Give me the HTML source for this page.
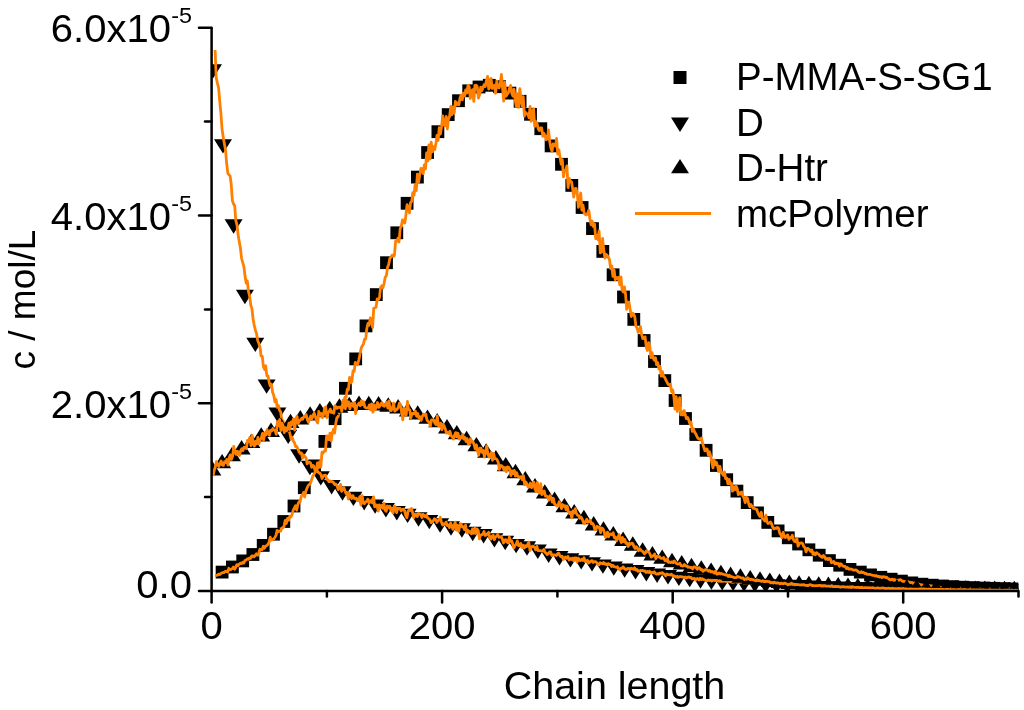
<!DOCTYPE html>
<html><head><meta charset="utf-8"><style>
html,body{margin:0;padding:0;background:#fff;width:1024px;height:710px;overflow:hidden}
svg{position:absolute;left:0;top:0;font-family:"Liberation Sans",sans-serif;will-change:transform}
</style></head><body>
<svg width="1024" height="710" viewBox="0 0 1024 710">
<rect width="1024" height="710" fill="#fff"/>
<defs><clipPath id="pc"><rect x="211.65" y="0" width="806.75" height="590.9"/></clipPath></defs>
<g clip-path="url(#pc)">
<g fill="#000"><rect x="215.7" y="565.7" width="12.8" height="12.8"/><rect x="226.0" y="560.6" width="12.8" height="12.8"/><rect x="236.3" y="554.5" width="12.8" height="12.8"/><rect x="246.5" y="548.1" width="12.8" height="12.8"/><rect x="256.8" y="539.0" width="12.8" height="12.8"/><rect x="267.1" y="527.8" width="12.8" height="12.8"/><rect x="277.4" y="515.1" width="12.8" height="12.8"/><rect x="287.6" y="499.6" width="12.8" height="12.8"/><rect x="297.9" y="481.3" width="12.8" height="12.8"/><rect x="308.2" y="459.5" width="12.8" height="12.8"/><rect x="318.5" y="435.0" width="12.8" height="12.8"/><rect x="328.7" y="412.3" width="12.8" height="12.8"/><rect x="339.0" y="381.9" width="12.8" height="12.8"/><rect x="349.3" y="352.5" width="12.8" height="12.8"/><rect x="359.6" y="319.5" width="12.8" height="12.8"/><rect x="369.9" y="288.2" width="12.8" height="12.8"/><rect x="380.1" y="256.3" width="12.8" height="12.8"/><rect x="390.4" y="226.4" width="12.8" height="12.8"/><rect x="400.7" y="196.9" width="12.8" height="12.8"/><rect x="411.0" y="170.7" width="12.8" height="12.8"/><rect x="421.2" y="146.1" width="12.8" height="12.8"/><rect x="431.5" y="125.3" width="12.8" height="12.8"/><rect x="441.8" y="108.2" width="12.8" height="12.8"/><rect x="452.1" y="94.3" width="12.8" height="12.8"/><rect x="462.3" y="84.4" width="12.8" height="12.8"/><rect x="472.6" y="80.6" width="12.8" height="12.8"/><rect x="482.9" y="78.9" width="12.8" height="12.8"/><rect x="493.2" y="80.3" width="12.8" height="12.8"/><rect x="503.5" y="86.7" width="12.8" height="12.8"/><rect x="513.7" y="94.9" width="12.8" height="12.8"/><rect x="524.1" y="107.9" width="12.8" height="12.8"/><rect x="534.4" y="122.3" width="12.8" height="12.8"/><rect x="544.7" y="139.5" width="12.8" height="12.8"/><rect x="555.1" y="157.9" width="12.8" height="12.8"/><rect x="565.4" y="179.0" width="12.8" height="12.8"/><rect x="575.7" y="201.1" width="12.8" height="12.8"/><rect x="586.1" y="222.2" width="12.8" height="12.8"/><rect x="596.4" y="245.0" width="12.8" height="12.8"/><rect x="606.7" y="268.4" width="12.8" height="12.8"/><rect x="617.1" y="290.6" width="12.8" height="12.8"/><rect x="627.4" y="313.0" width="12.8" height="12.8"/><rect x="637.7" y="334.1" width="12.8" height="12.8"/><rect x="648.1" y="355.1" width="12.8" height="12.8"/><rect x="658.4" y="374.2" width="12.8" height="12.8"/><rect x="668.7" y="394.1" width="12.8" height="12.8"/><rect x="679.1" y="412.1" width="12.8" height="12.8"/><rect x="689.4" y="428.1" width="12.8" height="12.8"/><rect x="699.7" y="443.9" width="12.8" height="12.8"/><rect x="710.0" y="459.1" width="12.8" height="12.8"/><rect x="720.3" y="473.3" width="12.8" height="12.8"/><rect x="730.5" y="484.7" width="12.8" height="12.8"/><rect x="740.8" y="496.2" width="12.8" height="12.8"/><rect x="751.1" y="506.5" width="12.8" height="12.8"/><rect x="761.4" y="516.0" width="12.8" height="12.8"/><rect x="771.7" y="524.5" width="12.8" height="12.8"/><rect x="781.9" y="531.4" width="12.8" height="12.8"/><rect x="792.2" y="537.6" width="12.8" height="12.8"/><rect x="802.5" y="543.4" width="12.8" height="12.8"/><rect x="812.8" y="548.8" width="12.8" height="12.8"/><rect x="823.0" y="554.2" width="12.8" height="12.8"/><rect x="833.3" y="558.8" width="12.8" height="12.8"/><rect x="843.6" y="563.0" width="12.8" height="12.8"/><rect x="853.9" y="565.7" width="12.8" height="12.8"/><rect x="864.1" y="568.5" width="12.8" height="12.8"/><rect x="874.4" y="570.9" width="12.8" height="12.8"/><rect x="884.7" y="572.8" width="12.8" height="12.8"/><rect x="895.0" y="574.7" width="12.8" height="12.8"/><rect x="905.3" y="576.5" width="12.8" height="12.8"/><rect x="915.5" y="577.8" width="12.8" height="12.8"/><rect x="925.8" y="578.8" width="12.8" height="12.8"/><rect x="936.1" y="579.6" width="12.8" height="12.8"/><rect x="946.4" y="580.2" width="12.8" height="12.8"/><rect x="956.6" y="580.8" width="12.8" height="12.8"/><rect x="966.9" y="581.2" width="12.8" height="12.8"/><rect x="977.2" y="581.6" width="12.8" height="12.8"/><rect x="987.5" y="581.9" width="12.8" height="12.8"/><rect x="997.7" y="582.2" width="12.8" height="12.8"/><rect x="1008.0" y="582.5" width="12.8" height="12.8"/><path d="M204.0 64.2h18l-9.0 14.4z"/><path d="M214.0 139.2h18l-9.0 14.4z"/><path d="M224.6 219.3h18l-9.0 14.4z"/><path d="M235.9 289.8h18l-9.0 14.4z"/><path d="M246.3 337.7h18l-9.0 14.4z"/><path d="M257.6 379.4h18l-9.0 14.4z"/><path d="M268.4 407.5h18l-9.0 14.4z"/><path d="M279.2 429.7h18l-9.0 14.4z"/><path d="M290.1 449.3h18l-9.0 14.4z"/><path d="M300.9 460.8h18l-9.0 14.4z"/><path d="M311.8 471.2h18l-9.0 14.4z"/><path d="M322.6 480.0h18l-9.0 14.4z"/><path d="M333.5 486.3h18l-9.0 14.4z"/><path d="M344.4 491.7h18l-9.0 14.4z"/><path d="M355.2 496.0h18l-9.0 14.4z"/><path d="M366.1 499.4h18l-9.0 14.4z"/><path d="M376.9 503.1h18l-9.0 14.4z"/><path d="M387.8 506.0h18l-9.0 14.4z"/><path d="M398.6 508.7h18l-9.0 14.4z"/><path d="M409.5 512.3h18l-9.0 14.4z"/><path d="M420.3 514.9h18l-9.0 14.4z"/><path d="M431.1 518.3h18l-9.0 14.4z"/><path d="M442.0 521.3h18l-9.0 14.4z"/><path d="M452.9 523.3h18l-9.0 14.4z"/><path d="M463.7 526.8h18l-9.0 14.4z"/><path d="M474.6 529.0h18l-9.0 14.4z"/><path d="M485.4 533.2h18l-9.0 14.4z"/><path d="M496.2 535.8h18l-9.0 14.4z"/><path d="M507.1 538.9h18l-9.0 14.4z"/><path d="M518.0 541.3h18l-9.0 14.4z"/><path d="M528.8 544.6h18l-9.0 14.4z"/><path d="M539.6 548.5h18l-9.0 14.4z"/><path d="M550.5 551.0h18l-9.0 14.4z"/><path d="M561.4 553.2h18l-9.0 14.4z"/><path d="M572.2 555.2h18l-9.0 14.4z"/><path d="M583.0 557.2h18l-9.0 14.4z"/><path d="M593.9 559.4h18l-9.0 14.4z"/><path d="M604.8 561.4h18l-9.0 14.4z"/><path d="M615.6 563.4h18l-9.0 14.4z"/><path d="M626.5 565.0h18l-9.0 14.4z"/><path d="M637.3 567.0h18l-9.0 14.4z"/><path d="M648.1 568.5h18l-9.0 14.4z"/><path d="M659.0 570.1h18l-9.0 14.4z"/><path d="M669.9 571.7h18l-9.0 14.4z"/><path d="M680.7 572.9h18l-9.0 14.4z"/><path d="M691.5 574.3h18l-9.0 14.4z"/><path d="M702.4 575.4h18l-9.0 14.4z"/><path d="M713.2 576.2h18l-9.0 14.4z"/><path d="M724.1 576.8h18l-9.0 14.4z"/><path d="M735.0 577.5h18l-9.0 14.4z"/><path d="M745.8 578.1h18l-9.0 14.4z"/><path d="M756.7 578.7h18l-9.0 14.4z"/><path d="M767.5 579.2h18l-9.0 14.4z"/><path d="M778.3 579.7h18l-9.0 14.4z"/><path d="M789.2 580.1h18l-9.0 14.4z"/><path d="M800.0 580.5h18l-9.0 14.4z"/><path d="M810.9 580.9h18l-9.0 14.4z"/><path d="M821.8 581.3h18l-9.0 14.4z"/><path d="M832.6 581.6h18l-9.0 14.4z"/><path d="M843.5 581.9h18l-9.0 14.4z"/><path d="M854.3 582.1h18l-9.0 14.4z"/><path d="M865.2 582.3h18l-9.0 14.4z"/><path d="M876.0 582.5h18l-9.0 14.4z"/><path d="M886.8 582.7h18l-9.0 14.4z"/><path d="M897.7 582.9h18l-9.0 14.4z"/><path d="M908.5 583.1h18l-9.0 14.4z"/><path d="M919.4 583.2h18l-9.0 14.4z"/><path d="M930.2 583.4h18l-9.0 14.4z"/><path d="M941.1 583.5h18l-9.0 14.4z"/><path d="M952.0 583.6h18l-9.0 14.4z"/><path d="M962.8 583.7h18l-9.0 14.4z"/><path d="M973.7 583.8h18l-9.0 14.4z"/><path d="M984.5 583.9h18l-9.0 14.4z"/><path d="M995.3 584.0h18l-9.0 14.4z"/><path d="M1006.2 584.1h18l-9.0 14.4z"/></g>
<path d="M215.0 575.7 216.2 575.4 217.3 575.4 218.5 574.1 219.6 574.6 220.8 573.7 221.9 572.8 223.1 572.5 224.2 572.5 225.4 571.4 226.5 571.5 227.7 572.0 228.8 568.3 230.0 569.7 231.1 569.4 232.3 568.5 233.4 567.1 234.6 569.2 235.7 567.4 236.9 564.6 238.0 565.6 239.2 564.2 240.3 563.2 241.5 563.6 242.6 562.3 243.8 563.1 244.9 560.5 246.1 560.1 247.2 558.8 248.4 559.3 249.5 558.0 250.7 558.3 251.8 555.9 253.0 556.0 254.1 556.8 255.3 555.4 256.4 553.8 257.6 555.2 258.7 553.6 259.9 549.2 261.0 549.7 262.2 549.6 263.3 546.3 264.5 548.2 265.6 546.0 266.8 545.6 267.9 544.5 269.1 542.1 270.2 537.2 271.4 540.1 272.5 539.4 273.7 539.1 274.8 537.5 276.0 535.6 277.1 530.4 278.3 531.9 279.4 531.1 280.6 531.2 281.7 528.1 282.9 527.6 284.0 526.6 285.2 520.3 286.3 523.5 287.5 518.3 288.6 520.3 289.8 516.1 290.9 516.9 292.1 514.5 293.2 510.1 294.4 508.0 295.5 505.7 296.7 510.2 297.8 504.6 299.0 501.7 300.1 501.9 301.3 495.9 302.4 495.3 303.6 492.4 304.7 497.0 305.9 491.0 307.0 488.3 308.2 485.5 309.3 484.5 310.5 483.3 311.6 479.7 312.8 476.3 313.9 474.4 315.1 472.1 316.2 471.5 317.4 463.0 318.5 467.8 319.7 461.7 320.8 467.1 322.0 452.1 323.1 453.1 324.3 451.0 325.4 451.2 326.6 435.8 327.7 436.5 328.9 439.7 330.0 433.1 331.2 440.9 332.3 432.9 333.5 429.2 334.6 433.1 335.8 423.2 336.9 417.6 338.1 417.0 339.2 411.9 340.4 412.2 341.5 409.9 342.7 408.9 343.8 401.8 345.0 397.1 346.1 397.3 347.3 389.1 348.4 389.9 349.6 377.4 350.7 382.8 351.9 381.5 353.0 371.0 354.2 371.4 355.3 362.5 356.5 363.2 357.6 364.7 358.8 360.1 359.9 354.8 361.1 348.5 362.2 345.9 363.4 344.4 364.5 339.4 365.7 339.2 366.8 328.5 368.0 323.3 369.1 325.3 370.3 318.0 371.4 319.9 372.6 327.3 373.7 308.3 374.9 307.8 376.0 307.3 377.2 299.0 378.3 299.8 379.5 297.6 380.6 287.4 381.8 285.8 382.9 287.9 384.1 283.3 385.2 277.3 386.4 275.6 387.5 267.4 388.7 264.6 389.8 258.5 391.0 257.1 392.1 255.1 393.3 256.3 394.4 255.4 395.6 241.1 396.7 241.2 397.9 238.2 399.0 242.0 400.2 228.6 401.3 226.5 402.5 219.8 403.6 220.8 404.8 223.1 405.9 215.0 407.1 204.6 408.2 207.9 409.4 213.0 410.5 202.9 411.7 201.4 412.8 192.6 414.0 195.3 415.1 184.9 416.3 190.7 417.4 174.1 418.6 182.3 419.7 175.3 420.9 168.5 422.0 168.6 423.2 173.7 424.3 165.0 425.5 168.9 426.6 152.9 427.8 160.9 428.9 144.8 430.1 158.8 431.2 142.2 432.4 151.9 433.5 146.7 434.7 149.7 435.8 144.4 437.0 135.5 438.1 140.6 439.3 127.7 440.4 134.1 441.6 126.2 442.7 116.0 443.9 124.8 445.0 125.7 446.2 116.4 447.3 129.0 448.5 119.0 449.6 116.2 450.8 106.5 451.9 114.9 453.1 106.9 454.2 113.2 455.4 101.4 456.5 104.8 457.7 103.0 458.8 104.9 460.0 97.9 461.1 95.1 462.3 99.8 463.4 93.1 464.6 95.9 465.7 89.8 466.9 93.0 468.0 85.1 469.2 87.0 470.3 98.5 471.5 91.9 472.6 89.6 473.8 101.4 474.9 85.4 476.1 85.2 477.2 86.6 478.4 98.1 479.5 95.0 480.7 87.2 481.8 90.7 483.0 87.8 484.1 84.6 485.3 86.6 486.4 80.4 487.6 76.4 488.7 89.0 489.9 87.0 491.0 78.3 492.2 88.4 493.3 87.8 494.5 85.1 495.6 93.3 496.8 81.1 497.9 87.1 499.1 88.0 500.2 84.4 501.4 74.4 502.5 87.7 503.7 101.0 504.8 82.5 506.0 96.2 507.1 94.5 508.3 92.9 509.4 88.6 510.6 85.4 511.7 92.9 512.9 96.1 514.0 89.2 515.2 99.6 516.3 106.2 517.5 93.7 518.6 107.3 519.8 88.6 520.9 98.0 522.1 106.0 523.2 96.6 524.4 116.1 525.5 112.4 526.7 113.8 527.8 114.0 529.0 117.7 530.1 106.5 531.3 121.3 532.4 112.6 533.6 108.8 534.7 126.4 535.9 121.8 537.0 123.4 538.2 128.7 539.3 130.6 540.5 128.0 541.6 127.8 542.8 136.4 543.9 133.3 545.1 136.4 546.2 139.9 547.4 138.2 548.5 129.9 549.7 141.3 550.8 147.8 552.0 151.3 553.1 144.0 554.3 144.9 555.4 146.1 556.6 138.5 557.7 154.1 558.9 149.9 560.0 157.1 561.2 164.2 562.3 159.7 563.5 176.8 564.6 170.5 565.8 170.9 566.9 165.9 568.1 187.5 569.2 178.3 570.4 181.3 571.5 181.8 572.7 189.3 573.8 197.0 575.0 188.7 576.1 188.4 577.3 193.6 578.4 207.4 579.6 198.6 580.7 193.0 581.9 210.1 583.0 205.2 584.2 213.4 585.3 214.4 586.5 214.8 587.6 213.3 588.8 210.3 589.9 218.8 591.1 224.8 592.2 221.0 593.4 226.7 594.5 224.0 595.7 238.7 596.8 235.0 598.0 239.7 599.1 231.0 600.3 252.8 601.4 252.1 602.6 238.5 603.7 249.6 604.9 258.0 606.0 254.3 607.2 255.3 608.3 257.6 609.5 259.5 610.6 268.5 611.8 266.0 612.9 276.4 614.1 270.0 615.2 279.7 616.4 277.4 617.5 279.1 618.7 277.1 619.8 284.8 621.0 277.0 622.1 289.8 623.3 292.1 624.4 286.8 625.6 294.8 626.7 309.3 627.9 302.2 629.0 302.2 630.2 309.8 631.3 316.5 632.5 313.1 633.6 313.8 634.8 317.0 635.9 326.3 637.1 328.1 638.2 332.3 639.4 330.3 640.5 326.6 641.7 334.9 642.8 338.6 644.0 337.7 645.1 336.8 646.3 347.2 647.4 350.5 648.6 342.6 649.7 345.4 650.9 357.6 652.0 352.6 653.2 358.1 654.3 360.2 655.5 357.8 656.6 364.7 657.8 362.8 658.9 369.1 660.1 366.4 661.2 376.1 662.4 371.6 663.5 376.4 664.7 377.4 665.8 379.9 667.0 382.1 668.1 384.3 669.3 385.1 670.4 384.2 671.6 391.8 672.7 389.9 673.9 396.8 675.0 409.1 676.2 396.6 677.3 411.5 678.5 402.6 679.6 397.7 680.8 414.8 681.9 411.5 683.1 415.0 684.2 410.6 685.4 415.3 686.5 418.7 687.7 417.5 688.8 420.3 690.0 424.0 691.1 422.2 692.3 431.4 693.4 428.6 694.6 432.1 695.7 433.7 696.9 436.3 698.0 438.4 699.2 439.2 700.3 439.3 701.5 438.0 702.6 443.4 703.8 447.4 704.9 450.9 706.1 449.0 707.2 449.2 708.4 455.2 709.5 451.8 710.7 456.1 711.8 462.4 713.0 467.9 714.1 459.8 715.3 464.9 716.4 462.3 717.6 466.1 718.7 471.7 719.9 466.4 721.0 471.6 722.2 473.3 723.3 475.4 724.5 471.9 725.6 478.5 726.8 478.2 727.9 483.8 729.1 479.4 730.2 483.8 731.4 483.2 732.5 491.2 733.7 486.8 734.8 489.9 736.0 486.0 737.1 488.1 738.3 494.7 739.4 492.6 740.6 494.1 741.7 492.0 742.9 496.1 744.0 497.9 745.2 502.6 746.3 497.2 747.5 498.4 748.6 503.5 749.8 506.9 750.9 504.5 752.1 506.4 753.2 508.3 754.4 508.4 755.5 509.1 756.7 509.3 757.8 512.6 759.0 515.2 760.1 516.5 761.3 512.3 762.4 518.6 763.6 519.5 764.7 521.0 765.9 515.2 767.0 521.8 768.2 523.6 769.3 523.1 770.5 521.9 771.6 524.0 772.8 527.3 773.9 528.9 775.1 528.0 776.2 528.4 777.4 527.4 778.5 528.0 779.7 533.3 780.8 534.7 782.0 537.8 783.1 532.3 784.3 536.4 785.4 537.6 786.6 535.7 787.7 534.9 788.9 539.4 790.0 537.7 791.2 537.9 792.3 535.3 793.5 539.8 794.6 541.5 795.8 541.8 796.9 538.1 798.1 546.2 799.2 543.4 800.4 543.1 801.5 542.9 802.7 543.7 803.8 546.5 805.0 547.7 806.1 551.8 807.3 548.4 808.4 548.7 809.6 549.8 810.7 551.3 811.9 550.1 813.0 554.4 814.2 552.8 815.3 554.7 816.5 552.6 817.6 553.5 818.8 554.4 819.9 555.8 821.1 556.5 822.2 557.6 823.4 555.5 824.5 556.6 825.7 559.3 826.8 558.2 828.0 559.7 829.1 558.3 830.3 558.8 831.4 562.7 832.6 562.2 833.7 561.5 834.9 563.9 836.0 563.0 837.2 563.8 838.3 563.4 839.5 566.2 840.6 563.8 841.8 564.7 842.9 566.1 844.1 566.3 845.2 566.5 846.4 568.6 847.5 567.6 848.7 569.1 849.8 568.9 851.0 569.1 852.1 569.3 853.3 570.1 854.4 570.2 855.6 569.9 856.7 570.3 857.9 571.5 859.0 572.2 860.2 572.8 861.3 571.6 862.5 572.6 863.6 572.4 864.8 573.6 865.9 573.4 867.1 574.4 868.2 574.4 869.4 574.4 870.5 574.7 871.7 575.0 872.8 575.4 874.0 575.4 875.1 576.1 876.3 575.5 877.4 576.5 878.6 576.3 879.7 577.0 880.9 576.7 882.0 577.6 883.2 576.7 884.3 576.8 885.5 577.5 886.6 577.1 887.8 578.8 888.9 578.9 890.1 579.9 891.2 579.7 892.4 579.1 893.5 580.2 894.7 579.5 895.8 580.9 897.0 580.1 898.1 580.9 899.3 579.8 900.4 579.6 901.6 580.5 902.7 581.3 903.9 581.2 905.0 581.7 906.2 582.1 907.3 582.3 908.5 581.6 909.6 582.8 910.8 582.4 911.9 582.3 913.1 583.3 914.2 583.0 915.4 583.2 916.5 583.4 917.7 583.9 918.8 584.0 920.0 584.9 921.1 584.7 922.3 585.1 923.4 585.3 924.6 584.9 925.7 585.4 926.9 586.1 928.0 585.3 929.2 585.4 930.3 586.2 931.5 585.9 932.6 586.1 933.8 586.8 934.9 586.6 936.1 586.9 937.2 587.0 938.4 586.9 939.5 587.2 940.7 587.8 941.8 587.7 943.0 587.9 944.1 588.1 945.3 588.4 946.4 588.3 947.6 588.2 948.7 588.7 949.9 589.0 951.0 589.1 952.2 589.0 953.3 589.1 954.5 588.9 955.6 589.4 956.8 589.3 957.9 589.2 959.1 589.5 960.2 589.1 961.4 589.7 962.5 589.5 963.7 589.5 964.8 589.8 966.0 589.5 967.1 590.0 968.3 590.1 969.4 589.9 970.6 590.0 971.7 590.0 972.9 589.8 974.0 590.1 975.2 590.3 976.3 590.3 977.5 590.3 978.6 590.3 979.8 590.3 980.9 590.3 982.1 590.3 983.2 590.1 984.4 590.3 985.5 590.3 986.7 590.3 987.8 590.3 989.0 590.3 990.1 590.3 991.3 590.3 992.4 590.3 993.6 590.3 994.7 590.3 995.9 590.3 997.0 590.3 998.2 590.3 999.3 590.3 1000.5 590.3 1001.6 590.3 1002.8 590.3 1003.9 590.3 1005.1 590.3 1006.2 590.3 1007.4 590.3 1008.5 590.3 1009.7 590.3 1010.8 590.3 1012.0 590.3 1013.1 590.3 1014.3 590.3 1015.4 590.3 1016.6 590.3 1017.7 590.3 1018.9 590.3" fill="none" stroke="#FF8000" stroke-width="2.8" stroke-linejoin="round"/>
<path d="M215.1 50.0 216.2 77.6 217.4 83.1 218.6 87.9 219.7 100.9 220.9 113.2 222.0 128.6 223.2 137.1 224.3 143.2 225.5 149.7 226.6 162.8 227.8 173.1 228.9 174.7 230.1 175.9 231.2 184.0 232.4 200.8 233.5 203.9 234.7 205.7 235.8 220.3 237.0 224.8 238.1 234.6 239.3 242.1 240.4 247.9 241.6 258.5 242.7 262.5 243.9 266.6 245.0 275.8 246.2 283.0 247.3 281.0 248.5 291.7 249.6 296.0 250.8 305.2 251.9 308.4 253.1 319.0 254.2 325.1 255.4 330.3 256.5 333.6 257.7 340.5 258.8 343.3 260.0 347.1 261.1 356.0 262.3 356.4 263.4 366.8 264.6 369.5 265.7 365.8 266.9 375.8 268.0 375.8 269.2 382.5 270.3 386.1 271.5 384.2 272.6 392.2 273.8 395.5 274.9 401.8 276.1 399.5 277.2 407.3 278.4 405.6 279.5 410.3 280.7 411.8 281.8 420.1 283.0 420.5 284.1 427.5 285.3 425.7 286.4 428.6 287.6 430.9 288.7 429.9 289.9 433.4 291.0 439.0 292.2 437.3 293.3 441.0 294.5 442.8 295.6 446.5 296.8 446.5 297.9 449.0 299.1 451.9 300.2 453.4 301.4 452.9 302.5 458.2 303.7 455.0 304.8 456.6 306.0 457.7 307.1 463.8 308.3 462.2 309.4 462.1 310.6 463.0 311.7 467.4 312.9 465.4 314.0 466.1 315.2 471.1 316.3 468.4 317.5 471.2 318.6 472.8 319.8 472.9 320.9 474.7 322.1 478.5 323.2 475.9 324.4 475.4 325.5 475.2 326.7 479.4 327.8 479.8 329.0 481.8 330.1 481.0 331.3 481.6 332.4 481.7 333.6 482.7 334.7 484.6 335.9 484.1 337.0 485.6 338.2 489.7 339.3 487.6 340.5 484.4 341.6 491.3 342.8 489.4 343.9 487.6 346.0 493.6 347.1 492.6 348.3 499.0 349.4 493.3 350.6 496.1 351.7 498.5 352.9 495.6 354.0 498.1 355.2 498.9 356.3 498.2 357.5 500.6 358.6 499.7 359.8 496.7 360.9 505.0 362.1 495.7 363.2 502.7 364.4 503.7 365.5 501.9 366.7 501.3 367.8 499.2 369.0 503.0 370.1 500.8 371.3 501.7 372.4 502.9 373.6 496.8 374.7 506.8 375.9 504.9 377.0 505.1 378.2 511.2 379.3 504.9 380.5 507.5 381.6 505.5 382.8 508.2 383.9 503.2 385.1 510.2 386.2 511.2 387.4 506.0 388.5 507.9 389.7 506.2 390.8 510.2 392.0 508.2 393.1 513.0 394.3 506.0 395.4 507.4 396.6 512.6 397.7 508.1 398.9 508.7 400.0 508.5 401.2 510.9 402.3 509.3 403.5 509.2 404.6 510.8 405.8 515.6 406.9 517.8 408.1 511.1 409.2 510.0 410.4 510.5 411.5 508.5 412.7 513.1 413.8 517.8 415.0 514.3 416.1 514.4 417.3 516.5 418.4 513.5 419.6 514.1 420.7 514.3 421.9 517.6 423.0 514.4 424.2 515.5 425.3 516.8 426.5 515.0 427.6 518.0 428.8 518.7 429.9 519.8 431.1 522.6 432.2 521.6 433.4 520.5 434.5 518.8 435.7 519.6 436.8 522.5 438.0 521.0 439.1 519.8 440.3 517.3 441.4 521.9 442.6 525.0 443.7 523.7 444.9 524.3 446.0 522.1 447.2 525.5 448.3 525.0 449.5 527.6 450.6 523.0 451.8 525.9 452.9 529.3 454.1 525.6 455.2 522.1 456.4 530.1 457.5 525.4 458.7 531.5 459.8 525.1 461.0 523.8 462.1 526.9 463.3 526.7 464.4 529.6 465.6 525.2 466.7 532.5 467.9 530.3 469.0 532.2 470.2 531.6 471.3 533.8 472.5 528.9 473.6 533.4 474.8 528.2 475.9 533.5 477.1 528.9 478.2 530.6 479.4 538.8 480.5 535.2 481.7 534.8 482.8 534.0 484.0 531.5 485.1 535.5 486.3 535.2 487.4 533.7 488.6 532.3 489.7 537.8 490.9 539.1 492.0 536.4 493.2 535.3 494.3 539.7 495.5 537.0 496.6 536.0 497.8 534.6 498.9 537.3 500.1 537.0 501.2 536.5 502.4 539.4 503.5 543.0 504.7 540.1 505.8 539.6 507.0 542.1 508.1 542.8 509.3 537.1 510.4 541.4 511.6 540.7 512.7 543.8 513.9 547.8 515.0 545.6 516.2 544.3 517.3 540.9 518.5 545.7 519.6 545.6 520.8 543.5 521.9 547.3 523.1 545.3 524.2 548.0 525.4 545.7 526.5 546.8 527.7 544.4 528.8 542.2 530.0 550.6 531.1 547.6 532.3 546.2 533.4 546.4 534.6 547.5 535.7 549.8 536.9 546.4 538.0 550.7 539.2 550.6 540.3 550.6 541.5 550.9 542.6 551.0 543.8 549.4 544.9 552.1 546.1 553.2 547.2 554.7 548.4 553.7 549.5 551.9 550.7 552.0 551.8 555.5 553.0 554.9 554.1 554.8 555.3 555.1 556.4 555.6 557.6 553.7 558.7 553.1 559.9 555.8 561.0 556.8 562.2 556.3 563.3 559.5 564.5 557.6 565.6 556.9 566.8 558.2 567.9 556.5 569.1 560.0 570.2 558.4 571.4 559.6 572.5 558.1 573.7 560.8 574.8 557.8 576.0 558.0 577.1 562.0 578.3 558.1 579.4 560.3 580.6 560.5 581.7 559.3 582.9 560.5 584.0 557.7 585.2 561.6 586.3 561.2 587.5 560.3 588.6 563.0 589.8 562.2 590.9 561.1 592.1 560.6 593.2 562.4 594.4 561.6 595.5 561.7 596.7 562.6 597.8 564.6 599.0 564.9 600.1 562.7 601.3 563.3 602.4 563.8 603.6 562.5 604.7 564.1 605.9 563.7 607.0 564.9 608.2 563.6 609.3 564.6 610.5 564.5 611.6 566.6 612.8 565.2 613.9 566.6 615.1 566.9 616.2 567.3 617.4 566.6 618.5 568.6 619.7 569.9 620.8 568.4 622.0 568.1 623.1 566.8 624.3 568.4 625.4 569.4 626.6 569.3 627.7 568.5 628.9 568.3 630.0 569.7 631.2 568.2 632.3 568.7 633.5 569.4 634.6 567.8 635.8 570.1 636.9 569.4 638.1 571.4 639.2 571.1 640.4 570.4 641.5 570.6 642.7 570.4 643.8 571.1 645.0 570.8 646.1 572.4 647.3 571.5 648.4 572.4 649.6 571.3 650.7 573.1 651.9 572.3 653.0 572.9 654.2 571.8 655.3 573.4 656.5 574.2 657.6 573.7 658.8 574.1 659.9 573.0 661.1 573.4 662.2 572.7 663.4 573.6 664.5 574.4 665.7 575.9 666.8 573.9 668.0 574.6 669.1 574.7 670.3 575.0 671.4 574.3 672.6 575.6 673.7 575.6 674.9 576.3 676.0 577.1 677.2 576.3 678.3 577.4 679.5 576.7 680.6 576.6 681.8 576.8 682.9 577.0 684.1 577.5 685.2 577.0 686.4 578.1 687.5 577.3 688.7 576.9 689.8 577.7 691.0 577.4 692.1 579.0 693.3 578.7 694.4 578.4 695.6 580.1 696.7 578.6 697.9 578.6 699.0 579.9 700.2 578.3 701.3 579.5 702.5 578.8 703.6 579.7 704.8 579.9 705.9 580.7 707.1 580.8 708.2 580.0 709.4 580.6 710.5 580.1 711.7 581.1 712.8 580.2 714.0 580.3 715.1 580.7 716.3 580.2 717.4 580.5 718.6 581.4 719.7 580.7 720.9 581.4 722.0 581.2 723.2 581.3 724.3 580.9 725.5 581.3 726.6 581.4 727.8 581.4 728.9 581.2 730.1 581.9 731.2 581.3 732.4 582.3 733.5 582.2 734.7 581.8 735.8 581.1 737.0 582.3 738.1 581.8 739.3 582.7 740.4 581.6 741.6 582.1 742.7 582.4 743.9 583.3 745.0 582.6 746.2 583.1 747.3 582.8 748.5 582.1 749.6 582.6 750.8 582.8 751.9 583.4 753.1 582.1 754.2 582.7 755.4 583.2 756.5 583.0 757.7 583.6 758.8 583.3 760.0 583.3 761.1 583.1 762.3 583.2 763.4 583.8 764.6 583.9 765.7 582.9 766.9 584.1 768.0 583.5 769.2 583.8 770.3 583.6 771.5 583.7 772.6 584.3 773.8 583.7 774.9 583.8 776.1 584.4 777.2 584.1 778.4 584.6 779.5 584.3 780.7 584.2 781.8 584.9 783.0 584.2 784.1 584.3 785.3 584.4 786.4 584.6 787.6 585.0 788.7 583.9 789.9 584.7 791.0 585.4 792.2 584.7 793.3 585.2 794.5 585.0 795.6 584.6 796.8 584.6 797.9 585.2 799.1 585.3 800.2 584.5 801.4 585.0 802.5 584.9 803.7 585.1 804.8 584.9 806.0 585.5 807.1 585.5 808.3 585.0 809.4 585.2 810.6 585.6 811.7 585.5 812.9 585.4 814.0 585.9 815.2 585.8 816.3 585.7 817.5 586.0 818.6 585.6 819.8 585.8 820.9 585.9 822.1 585.9 823.2 585.6 824.4 586.0 825.5 586.2 826.7 586.4 827.8 586.0 829.0 586.2 830.1 585.9 831.3 586.5 832.4 585.8 833.6 586.2 834.7 586.4 835.9 586.6 837.0 586.3 838.2 585.9 839.3 586.8 840.5 586.6 841.6 586.2 842.8 586.7 843.9 586.9 845.1 586.6 846.2 586.7 847.4 586.8 848.5 586.8 849.7 586.9 850.8 586.5 852.0 586.8 853.1 586.7 854.3 586.9 855.4 587.4 856.6 587.5 857.7 587.0 858.9 586.9 860.0 586.8 861.2 586.7 862.3 586.9 863.5 587.1 864.6 587.0 865.8 587.1 866.9 587.2 868.1 587.1 869.2 586.7 870.4 587.2 871.5 587.4 872.7 587.3 873.8 587.2 875.0 587.5 876.1 587.3 877.3 587.6 878.4 587.3 879.6 587.1 880.7 587.5 881.9 587.4 883.0 587.5 884.2 587.3 885.3 587.4 886.5 587.3 887.6 587.6 888.8 587.7 889.9 587.4 891.1 587.6 892.2 587.7 893.4 587.7 894.5 587.7 895.7 587.4 896.8 587.3 898.0 587.7 899.1 587.5 900.3 587.8 901.4 588.0 902.6 587.6 903.7 587.8 904.9 587.5 906.0 587.7 907.2 587.6 908.3 587.7 909.5 588.4 910.6 588.0 911.8 588.5 912.9 588.2 914.1 588.0 915.2 588.2 916.4 587.7 917.5 587.7 918.7 588.2 919.8 588.2 921.0 588.0 922.1 588.4 923.3 587.9 924.4 588.3 925.6 588.0 926.7 587.6 927.9 588.3 929.0 588.0 930.2 588.2 931.3 588.0 932.5 588.2 933.6 588.2 934.8 588.1 935.9 588.1 937.1 588.0 938.2 588.3 939.4 588.1 940.5 588.4 941.7 588.0 942.8 588.5 944.0 588.4 945.1 588.6 946.3 588.3 947.4 588.0 948.6 588.1 949.7 588.5 950.9 588.7 952.0 588.5 953.2 588.5 954.3 588.7 955.5 588.4 956.6 588.5 957.8 588.5 958.9 588.3 960.1 588.2 961.2 588.5 962.4 588.3 963.5 588.4 964.7 588.6 965.8 588.5 967.0 588.4 968.1 588.4 969.3 588.7 970.4 588.7 971.6 588.3 972.7 588.5 973.9 588.6 975.0 588.7 976.2 588.7 977.3 588.6 978.5 588.4 979.6 588.9 980.8 588.9 981.9 588.5 983.1 588.5 984.2 589.0 985.4 588.8 986.5 588.5 987.7 588.5 988.8 588.8 990.0 589.0 991.1 588.8 992.3 588.9 993.4 588.7 994.6 588.6 995.7 589.0 996.9 588.8 998.0 588.8 999.2 588.9 1000.3 589.0 1001.5 588.8 1002.6 588.8 1003.8 588.6 1004.9 589.0 1006.1 588.9 1007.2 588.8 1008.4 588.7 1009.5 588.9 1010.7 589.1 1011.8 589.1 1013.0 589.0 1014.1 588.9 1015.3 588.9 1016.4 588.9 1017.6 589.0 1018.7 588.9" fill="none" stroke="#FF8000" stroke-width="2.8" stroke-linejoin="round"/>
<g fill="#000"><path d="M203.3 475.4h18l-9.0 -14.4z"/><path d="M213.1 468.3h18l-9.0 -14.4z"/><path d="M222.9 461.3h18l-9.0 -14.4z"/><path d="M232.6 454.4h18l-9.0 -14.4z"/><path d="M242.4 447.9h18l-9.0 -14.4z"/><path d="M252.2 441.6h18l-9.0 -14.4z"/><path d="M262.0 437.0h18l-9.0 -14.4z"/><path d="M271.8 431.8h18l-9.0 -14.4z"/><path d="M281.5 428.1h18l-9.0 -14.4z"/><path d="M291.3 424.5h18l-9.0 -14.4z"/><path d="M301.1 420.6h18l-9.0 -14.4z"/><path d="M310.9 417.3h18l-9.0 -14.4z"/><path d="M320.7 415.1h18l-9.0 -14.4z"/><path d="M330.4 412.7h18l-9.0 -14.4z"/><path d="M340.2 411.1h18l-9.0 -14.4z"/><path d="M350.0 409.9h18l-9.0 -14.4z"/><path d="M359.8 410.1h18l-9.0 -14.4z"/><path d="M369.6 410.4h18l-9.0 -14.4z"/><path d="M379.3 411.7h18l-9.0 -14.4z"/><path d="M389.1 413.5h18l-9.0 -14.4z"/><path d="M398.9 416.5h18l-9.0 -14.4z"/><path d="M408.7 419.6h18l-9.0 -14.4z"/><path d="M418.5 423.8h18l-9.0 -14.4z"/><path d="M428.2 427.3h18l-9.0 -14.4z"/><path d="M438.0 433.5h18l-9.0 -14.4z"/><path d="M447.8 439.3h18l-9.0 -14.4z"/><path d="M457.6 445.2h18l-9.0 -14.4z"/><path d="M467.4 451.3h18l-9.0 -14.4z"/><path d="M477.1 457.7h18l-9.0 -14.4z"/><path d="M486.9 464.4h18l-9.0 -14.4z"/><path d="M496.7 471.3h18l-9.0 -14.4z"/><path d="M506.5 478.2h18l-9.0 -14.4z"/><path d="M516.3 485.3h18l-9.0 -14.4z"/><path d="M526.0 492.5h18l-9.0 -14.4z"/><path d="M535.8 498.6h18l-9.0 -14.4z"/><path d="M545.6 506.0h18l-9.0 -14.4z"/><path d="M555.4 512.3h18l-9.0 -14.4z"/><path d="M565.2 518.5h18l-9.0 -14.4z"/><path d="M574.9 524.2h18l-9.0 -14.4z"/><path d="M584.7 530.4h18l-9.0 -14.4z"/><path d="M594.5 535.6h18l-9.0 -14.4z"/><path d="M604.3 540.5h18l-9.0 -14.4z"/><path d="M614.1 545.9h18l-9.0 -14.4z"/><path d="M623.8 550.7h18l-9.0 -14.4z"/><path d="M633.6 556.7h18l-9.0 -14.4z"/><path d="M643.4 560.4h18l-9.0 -14.4z"/><path d="M653.2 563.8h18l-9.0 -14.4z"/><path d="M663.0 567.2h18l-9.0 -14.4z"/><path d="M672.7 569.4h18l-9.0 -14.4z"/><path d="M682.5 572.2h18l-9.0 -14.4z"/><path d="M692.3 574.6h18l-9.0 -14.4z"/><path d="M702.1 576.8h18l-9.0 -14.4z"/><path d="M711.9 579.1h18l-9.0 -14.4z"/><path d="M721.6 580.9h18l-9.0 -14.4z"/><path d="M731.4 582.7h18l-9.0 -14.4z"/><path d="M741.2 584.5h18l-9.0 -14.4z"/><path d="M751.0 585.7h18l-9.0 -14.4z"/><path d="M760.8 586.9h18l-9.0 -14.4z"/><path d="M770.5 588.0h18l-9.0 -14.4z"/><path d="M780.3 588.9h18l-9.0 -14.4z"/><path d="M790.1 589.6h18l-9.0 -14.4z"/><path d="M799.9 590.1h18l-9.0 -14.4z"/><path d="M809.7 590.6h18l-9.0 -14.4z"/><path d="M819.4 591.0h18l-9.0 -14.4z"/><path d="M829.2 591.5h18l-9.0 -14.4z"/><path d="M839.0 591.9h18l-9.0 -14.4z"/><path d="M848.8 592.3h18l-9.0 -14.4z"/><path d="M858.6 592.6h18l-9.0 -14.4z"/><path d="M868.3 593.0h18l-9.0 -14.4z"/><path d="M878.1 593.3h18l-9.0 -14.4z"/><path d="M887.9 593.5h18l-9.0 -14.4z"/><path d="M897.7 593.7h18l-9.0 -14.4z"/><path d="M907.5 593.9h18l-9.0 -14.4z"/><path d="M917.2 594.1h18l-9.0 -14.4z"/><path d="M927.0 594.3h18l-9.0 -14.4z"/><path d="M936.8 594.4h18l-9.0 -14.4z"/><path d="M946.6 594.5h18l-9.0 -14.4z"/><path d="M956.4 594.7h18l-9.0 -14.4z"/><path d="M966.1 594.8h18l-9.0 -14.4z"/><path d="M975.9 594.9h18l-9.0 -14.4z"/><path d="M985.7 595.0h18l-9.0 -14.4z"/><path d="M995.5 595.1h18l-9.0 -14.4z"/><path d="M1005.3 595.2h18l-9.0 -14.4z"/></g>
<path d="M213.0 476.0 214.2 470.4 215.3 467.0 216.5 461.5 217.6 464.1 218.8 466.5 219.9 464.2 221.1 461.0 222.2 464.8 223.4 465.4 224.5 461.8 225.7 462.5 226.8 459.5 228.0 465.1 229.1 457.7 230.3 454.9 231.4 459.5 232.6 456.2 233.7 446.4 234.9 451.3 236.0 454.4 237.2 451.3 238.3 452.0 239.5 455.5 240.6 450.9 241.8 448.8 242.9 450.5 244.1 447.2 245.2 447.8 246.4 448.5 247.5 440.3 248.7 441.7 249.8 437.5 251.0 445.6 252.1 435.5 253.3 443.7 254.4 446.1 255.6 441.3 256.7 444.0 257.9 437.5 259.0 443.5 260.2 439.8 261.3 437.8 262.5 433.4 263.6 440.0 264.8 432.9 265.9 435.1 267.1 429.7 268.2 433.4 269.4 435.4 270.5 430.4 271.7 430.9 272.8 428.5 274.0 430.1 275.1 430.6 276.3 434.3 277.4 421.6 278.6 425.9 279.7 419.6 280.9 430.5 282.0 423.1 283.2 426.1 284.3 432.5 285.5 427.7 286.6 430.7 287.8 428.9 288.9 423.2 290.1 428.6 291.2 421.9 292.4 424.2 293.5 418.9 294.7 430.2 295.8 419.3 297.0 416.2 298.1 423.4 299.3 421.1 300.4 420.0 301.6 418.2 302.7 419.3 303.9 416.5 305.0 416.5 306.2 414.7 307.3 419.6 308.5 422.3 309.6 418.9 310.8 416.0 311.9 418.9 313.1 415.2 314.2 413.2 315.4 416.7 316.5 421.1 317.7 423.0 318.8 411.4 320.0 415.0 321.1 413.5 322.3 417.6 323.4 415.3 324.6 408.0 325.7 406.9 326.9 417.5 328.0 412.9 329.2 411.3 330.3 409.1 331.5 412.5 332.6 411.8 333.8 413.2 334.9 405.9 336.1 406.6 337.2 408.4 338.4 407.3 339.5 407.1 340.7 407.0 341.8 411.4 343.0 400.2 344.1 406.5 345.3 408.7 346.4 400.3 347.6 405.9 348.7 401.9 349.9 408.8 351.0 403.6 352.2 403.7 353.3 406.3 354.5 402.5 355.6 413.5 356.8 405.6 357.9 404.9 359.1 403.1 360.2 405.6 361.4 400.8 362.5 404.6 363.7 401.7 364.8 407.1 366.0 407.9 367.1 407.8 368.3 408.2 369.4 404.9 370.6 409.9 371.7 404.0 372.9 412.2 374.0 405.0 375.2 409.8 376.3 406.7 377.5 402.5 378.6 407.4 379.8 406.3 380.9 403.7 382.1 402.6 383.2 405.7 384.4 406.3 385.5 404.3 386.7 402.4 387.8 408.0 389.0 400.8 390.1 410.2 391.3 410.6 392.4 407.6 393.6 403.0 394.7 411.1 395.9 410.1 397.0 409.5 398.2 407.5 399.3 403.3 400.5 405.3 401.6 412.0 402.8 419.9 403.9 408.1 405.1 412.0 406.2 415.0 407.4 401.5 408.5 409.6 409.7 409.8 410.8 417.9 412.0 413.5 413.1 413.6 414.3 413.9 415.4 411.0 416.6 416.3 417.7 413.5 418.9 417.8 420.0 416.7 421.2 420.3 422.3 416.4 423.5 414.1 424.6 415.3 425.8 414.0 426.9 419.8 428.1 421.4 429.2 422.1 430.4 425.9 431.5 419.8 432.7 419.8 433.8 420.1 435.0 423.4 436.1 424.7 437.3 415.8 438.4 425.7 439.6 425.5 440.7 423.1 441.9 429.8 443.0 424.3 444.2 426.2 445.3 429.1 446.5 433.1 447.6 432.3 448.8 433.5 449.9 431.2 451.1 435.7 452.2 436.7 453.4 439.1 454.5 435.4 455.7 432.6 456.8 436.9 458.0 433.3 459.1 439.1 460.3 436.8 461.4 437.8 462.6 434.4 463.7 439.0 464.9 437.3 466.0 441.5 467.2 438.6 468.3 443.9 469.5 443.8 470.6 438.6 471.8 442.1 472.9 441.6 474.1 444.7 475.2 449.0 476.4 444.8 477.5 450.8 478.7 455.2 479.8 448.1 481.0 448.1 482.1 452.4 483.3 450.6 484.4 457.0 485.6 452.0 486.7 446.0 487.9 453.9 489.0 457.1 490.2 454.8 491.3 452.4 492.5 460.3 493.6 453.5 494.8 458.6 495.9 458.6 497.1 459.8 498.2 462.2 499.4 469.4 500.5 465.9 501.7 465.6 502.8 466.9 504.0 470.0 505.1 467.5 506.3 471.8 507.4 466.8 508.6 467.1 509.7 469.2 510.9 475.6 512.0 470.9 513.2 473.6 514.3 470.4 515.5 476.1 516.6 472.7 517.8 476.4 518.9 476.7 520.1 477.9 521.2 476.6 522.4 479.8 523.5 475.7 524.7 484.8 525.8 482.0 527.0 483.9 528.1 487.1 529.3 486.9 530.4 483.2 531.6 487.6 532.7 484.9 533.9 482.1 535.0 489.1 536.2 491.5 537.3 482.5 538.5 489.6 539.6 493.1 540.8 483.6 541.9 494.7 543.1 492.0 544.2 490.9 545.4 496.2 546.5 495.9 547.7 497.1 548.8 500.1 550.0 495.7 551.1 497.4 552.3 502.1 553.4 498.3 554.6 504.3 555.7 504.7 556.9 506.1 558.0 505.4 559.2 501.7 560.3 504.9 561.5 508.6 562.6 504.5 563.8 506.3 564.9 505.8 566.1 509.8 567.2 506.0 568.4 511.6 569.5 513.6 570.7 512.3 571.8 517.9 573.0 510.8 574.1 512.9 575.3 508.7 576.4 513.5 577.6 515.3 578.7 515.6 579.9 518.2 581.0 516.9 582.2 518.9 583.3 522.4 584.5 523.8 585.6 521.4 586.8 519.2 587.9 522.2 589.1 521.6 590.2 520.2 591.4 523.7 592.5 523.2 593.7 525.1 594.8 529.7 596.0 529.4 597.1 526.3 598.3 527.3 599.4 527.4 600.6 532.7 601.7 528.0 602.9 528.7 604.0 530.8 605.2 537.0 606.3 537.0 607.5 532.1 608.6 536.8 609.8 534.0 610.9 534.0 612.1 534.8 613.2 532.8 614.4 537.7 615.5 537.3 616.7 540.8 617.8 537.8 619.0 534.6 620.1 539.1 621.3 542.5 622.4 537.3 623.6 541.6 624.7 539.5 625.9 543.3 627.0 542.9 628.2 546.5 629.3 543.4 630.5 544.3 631.6 543.2 632.8 543.6 633.9 546.6 635.1 548.5 636.2 546.7 637.4 547.9 638.5 550.7 639.7 548.6 640.8 550.2 642.0 551.1 643.1 551.8 644.3 553.7 645.4 553.0 646.6 550.7 647.7 551.7 648.9 552.2 650.0 553.9 651.2 557.1 652.3 556.3 653.5 555.6 654.6 554.0 655.8 558.7 656.9 556.4 658.1 556.9 659.2 556.4 660.4 557.9 661.5 558.4 662.7 558.3 663.8 557.4 665.0 560.7 666.1 561.0 667.3 558.8 668.4 562.4 669.6 561.8 670.7 562.6 671.9 561.8 673.0 562.8 674.2 560.9 675.3 562.3 676.5 563.6 677.6 564.1 678.8 563.9 679.9 563.3 681.1 565.6 682.2 566.0 683.4 565.8 684.5 564.5 685.7 566.0 686.8 566.0 688.0 567.3 689.1 566.9 690.3 567.5 691.4 567.4 692.6 568.9 693.7 567.0 694.9 566.8 696.0 567.6 697.2 569.3 698.3 567.8 699.5 567.7 700.6 569.5 701.8 569.4 702.9 571.3 704.1 570.4 705.2 569.6 706.4 570.1 707.5 570.1 708.7 571.3 709.8 570.5 711.0 572.0 712.1 571.5 713.3 572.2 714.4 573.1 715.6 571.0 716.7 574.1 717.9 574.1 719.0 572.9 720.2 574.1 721.3 573.4 722.5 574.1 723.6 574.4 724.8 574.6 725.9 575.2 727.1 574.8 728.2 576.5 729.4 575.3 730.5 576.7 731.7 576.7 732.8 577.0 734.0 577.6 735.1 577.7 736.3 577.6 737.4 576.4 738.6 577.0 739.7 577.1 740.9 577.9 742.0 578.2 743.2 577.9 744.3 579.6 745.5 578.8 746.6 579.3 747.8 577.8 748.9 578.9 750.1 579.7 751.2 579.2 752.4 579.5 753.5 580.0 754.7 580.2 755.8 580.9 757.0 579.7 758.1 580.7 759.3 580.4 760.4 581.0 761.6 581.4 762.7 580.7 763.9 581.6 765.0 581.3 766.2 581.5 767.3 581.2 768.5 581.7 769.6 581.7 770.8 582.9 771.9 582.5 773.1 583.1 774.2 582.2 775.4 582.8 776.5 583.0 777.7 582.8 778.8 583.1 780.0 583.9 781.1 583.1 782.3 583.7 783.4 583.6 784.6 583.1 785.7 583.6 786.9 584.0 788.0 584.9 789.2 584.1 790.3 584.4 791.5 583.3 792.6 584.5 793.8 584.0 794.9 584.9 796.1 584.3 797.2 584.6 798.4 584.6 799.5 584.9 800.7 584.8 801.8 585.0 803.0 584.6 804.1 584.9 805.3 585.3 806.4 585.3 807.6 585.5 808.7 585.3 809.9 584.6 811.0 584.9 812.2 585.5 813.3 585.5 814.5 585.8 815.6 585.7 816.8 585.6 817.9 585.6 819.1 585.4 820.2 585.3 821.4 586.2 822.5 585.6 823.7 586.1 824.8 585.6 826.0 586.1 827.1 586.2 828.3 586.2 829.4 586.1 830.6 586.5 831.7 585.6 832.9 586.7 834.0 586.7 835.2 586.3 836.3 586.5 837.5 586.6 838.6 586.4 839.8 587.0 840.9 587.0 842.1 586.9 843.2 586.7 844.4 586.8 845.5 587.1 846.7 587.1 847.8 587.0 849.0 587.3 850.1 586.8 851.3 587.5 852.4 586.7 853.6 587.2 854.7 587.4 855.9 587.4 857.0 587.5 858.2 587.2 859.3 587.8 860.5 587.5 861.6 587.3 862.8 587.8 863.9 587.8 865.1 587.6 866.2 587.7 867.4 587.8 868.5 587.7 869.7 587.9 870.8 587.8 872.0 587.9 873.1 587.7 874.3 588.2 875.4 588.3 876.6 588.2 877.7 587.8 878.9 588.2 880.0 588.5 881.2 588.1 882.3 588.1 883.5 588.0 884.6 588.6 885.8 588.4 886.9 588.7 888.1 588.2 889.2 588.5 890.4 588.5 891.5 588.9 892.7 588.3 893.8 588.6 895.0 588.6 896.1 588.7 897.3 588.9 898.4 588.5 899.6 588.6 900.7 588.7 901.9 588.8 903.0 588.5 904.2 588.7 905.3 588.8 906.5 588.9 907.6 589.1 908.8 589.2 909.9 588.8 911.1 589.1 912.2 589.1 913.4 589.1 914.5 589.1 915.7 589.1 916.8 589.1 918.0 589.2 919.1 589.2 920.3 588.9 921.4 589.1 922.6 589.0 923.7 588.9 924.9 589.2 926.0 589.1 927.2 589.3 928.3 589.1 929.5 589.2 930.6 589.4 931.8 589.7 932.9 589.3 934.1 589.4 935.2 589.5 936.4 589.3 937.5 589.3 938.7 589.3 939.8 589.4 941.0 589.6 942.1 589.3 943.3 589.5 944.4 589.6 945.6 589.5 946.7 589.3 947.9 589.4 949.0 589.8 950.2 589.5 951.3 589.6 952.5 589.7 953.6 589.6 954.8 589.7 955.9 589.9 957.1 589.8 958.2 589.5 959.4 589.6 960.5 589.9 961.7 589.6 962.8 589.9 964.0 589.5 965.1 589.7 966.3 590.0 967.4 590.0 968.6 589.9 969.7 589.7 970.9 589.9 972.0 590.0 973.2 590.0 974.3 589.9 975.5 590.0 976.6 589.9 977.8 589.9 978.9 590.3 980.1 589.9 981.2 589.9 982.4 589.9 983.5 589.9 984.7 590.1 985.8 590.1 987.0 590.1 988.1 590.1 989.3 590.0 990.4 589.9 991.6 590.1 992.7 590.1 993.9 590.1 995.0 590.1 996.2 590.1 997.3 590.1 998.5 590.2 999.6 590.2 1000.8 590.1 1001.9 590.3 1003.1 590.3 1004.2 590.1 1005.4 590.1 1006.5 590.1 1007.7 590.2 1008.8 590.1 1010.0 590.3 1011.1 590.2 1012.3 590.2 1013.4 590.3 1014.6 590.3 1015.7 590.2 1016.9 590.3 1018.0 590.3" fill="none" stroke="#FF8000" stroke-width="2.8" stroke-linejoin="round"/>
</g>
<path d="M211.6 27.7 V591 H1019" fill="none" stroke="#000" stroke-width="2.5" stroke-linejoin="miter"/><line x1="199" y1="591.0" x2="211.6" y2="591.0" stroke="#000" stroke-width="2.5" stroke-linecap="round"/><line x1="199" y1="403.3" x2="211.6" y2="403.3" stroke="#000" stroke-width="2.5" stroke-linecap="round"/><line x1="199" y1="215.5" x2="211.6" y2="215.5" stroke="#000" stroke-width="2.5" stroke-linecap="round"/><line x1="199" y1="27.8" x2="211.6" y2="27.8" stroke="#000" stroke-width="2.5" stroke-linecap="round"/><line x1="205" y1="497.1" x2="211.6" y2="497.1" stroke="#000" stroke-width="2.5" stroke-linecap="round"/><line x1="205" y1="309.4" x2="211.6" y2="309.4" stroke="#000" stroke-width="2.5" stroke-linecap="round"/><line x1="205" y1="121.6" x2="211.6" y2="121.6" stroke="#000" stroke-width="2.5" stroke-linecap="round"/><line x1="211.6" y1="591" x2="211.6" y2="602.5" stroke="#000" stroke-width="2.5" stroke-linecap="round"/><line x1="442.1" y1="591" x2="442.1" y2="602.5" stroke="#000" stroke-width="2.5" stroke-linecap="round"/><line x1="672.7" y1="591" x2="672.7" y2="602.5" stroke="#000" stroke-width="2.5" stroke-linecap="round"/><line x1="903.2" y1="591" x2="903.2" y2="602.5" stroke="#000" stroke-width="2.5" stroke-linecap="round"/><line x1="326.9" y1="591" x2="326.9" y2="596.5" stroke="#000" stroke-width="2.5" stroke-linecap="round"/><line x1="557.4" y1="591" x2="557.4" y2="596.5" stroke="#000" stroke-width="2.5" stroke-linecap="round"/><line x1="788.0" y1="591" x2="788.0" y2="596.5" stroke="#000" stroke-width="2.5" stroke-linecap="round"/><line x1="1018.5" y1="591" x2="1018.5" y2="596.5" stroke="#000" stroke-width="2.5" stroke-linecap="round"/><text transform="translate(171.0,42.0) scale(1.04,1)" text-anchor="end" font-size="38.5">6.0x10</text><text transform="translate(192.1,23.4) scale(1.04,1)" text-anchor="end" font-size="22.5">-5</text><text transform="translate(171.0,229.7) scale(1.04,1)" text-anchor="end" font-size="38.5">4.0x10</text><text transform="translate(192.1,211.1) scale(1.04,1)" text-anchor="end" font-size="22.5">-5</text><text transform="translate(171.0,417.5) scale(1.04,1)" text-anchor="end" font-size="38.5">2.0x10</text><text transform="translate(192.1,398.9) scale(1.04,1)" text-anchor="end" font-size="22.5">-5</text><text transform="translate(192,598) scale(1.04,1)" text-anchor="end" font-size="38.5">0.0</text><text transform="translate(211.6,638.5) scale(1.04,1)" text-anchor="middle" font-size="38.5">0</text><text transform="translate(442.1,638.5) scale(1.04,1)" text-anchor="middle" font-size="38.5">200</text><text transform="translate(672.7,638.5) scale(1.04,1)" text-anchor="middle" font-size="38.5">400</text><text transform="translate(903.2,638.5) scale(1.04,1)" text-anchor="middle" font-size="38.5">600</text><text transform="translate(614.5,699) scale(1.025,1)" text-anchor="middle" font-size="38.5">Chain length</text><text transform="translate(34.8,299.6) rotate(-90)" text-anchor="middle" font-size="37">c / mol/L</text><rect x="673.5" y="71" width="13" height="13" fill="#000"/><path d="M671 117.5 H689 L680 132 Z" fill="#000"/><path d="M671 173.3 H689 L680 159 Z" fill="#000"/><line x1="635" y1="213.4" x2="711" y2="213.4" stroke="#FF8000" stroke-width="3"/><text x="736" y="90" font-size="38.5">P-MMA-S-SG1</text><text x="736" y="136" font-size="38.5">D</text><text x="736" y="181" font-size="38.5">D-Htr</text><text x="736" y="227" font-size="38.5">mcPolymer</text>
</svg></body></html>
